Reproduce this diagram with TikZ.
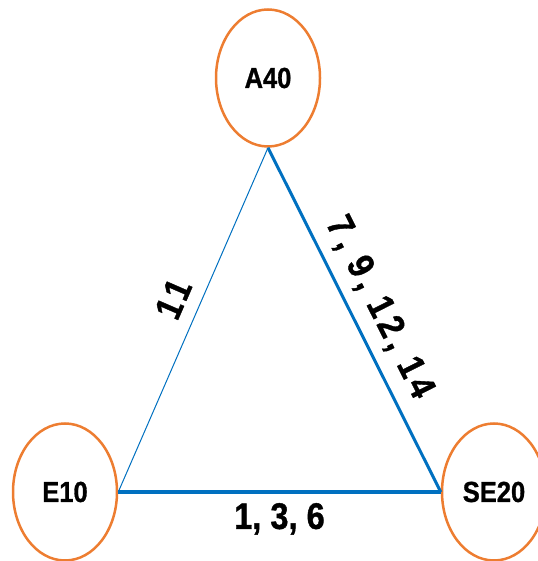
\documentclass[tikz,border=0pt]{standalone}
\usepackage{fontspec}
\setmainfont{Liberation Sans}[FakeStretch=0.88,BoldFeatures={FakeBold=1}]
\newfontfamily\spacedfont{Liberation Sans}[FakeStretch=0.88,LetterSpace=12,BoldFeatures={FakeBold=1}]
\usetikzlibrary{shapes.geometric}

\definecolor{stationorange}{HTML}{ED7D31}
\definecolor{routeblue}{HTML}{0070C0}

\begin{document}
\begin{tikzpicture}[x=1pt,y=1pt,
  station/.style={ellipse,draw=stationorange,line width=2.5pt,
    minimum width=104pt,minimum height=137pt,inner sep=0pt,
    font=\fontsize{29}{29}\selectfont\bfseries},
  route/.style={draw=routeblue},
  routelabel/.style={font=\fontsize{37}{37}\selectfont\bfseries,text=black},
  spacedlabel/.style={routelabel,font=\fontsize{37}{37}\spacedfont\bfseries}]
\useasboundingbox (0,0) rectangle (537,561);

\node[station] (a40) at (268,483) {A40};
\node[station] (e10) at (65,69) {E10};
\node[station] (se20) at (494,69) {SE20};

% route lines
\draw[route,line width=1pt] (e10.east) -- node[spacedlabel,sloped,above=10pt,pos=0.53] {11} (a40.south);
\draw[route,line width=3pt] (a40.south) -- node[spacedlabel,sloped,above=7pt] {7, 9, 12, 14} (se20.west);
\draw[route,line width=3.5pt] (e10.east) -- node[routelabel,below=6pt] {1, 3, 6} (se20.west);
\end{tikzpicture}
\end{document}
